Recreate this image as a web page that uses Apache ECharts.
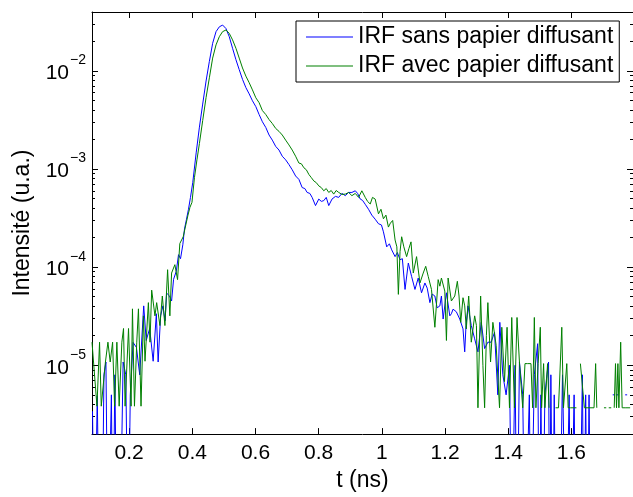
<!DOCTYPE html>
<html>
<head>
<meta charset="utf-8">
<script src="https://cdn.jsdelivr.net/npm/echarts@6/dist/echarts.min.js"></script>
<style>
  html, body { margin: 0; padding: 0; background: #fff; }
  #chart { width: 633px; height: 497px; }
</style>
</head>
<body>
<div id="chart"></div>
<script>
// t (ns), intensité (u.a.) ; 1e-7 = pas de coups (sous l'axe), null = trou
var sansPapier = [
  [0.0841, 3.4e-6], [0.0904, 1e-7], [0.0992, 4.9e-6], [0.1061, 1e-7], [0.1140, 1e-7],
  [0.1203, 8.0e-6], [0.1266, 1.08e-5], [0.1329, 1e-7], [0.1439, 5.0e-6], [0.1486, 1e-7],
  [0.1549, 8.0e-6], [0.1612, 1e-7], [0.1707, 1e-7], [0.1810, 1.08e-5], [0.1895, 8.0e-6],
  [0.1968, 1e-7], [0.2037, 5.0e-6], [0.2125, 1.71e-5], [0.2232, 1.52e-5], [0.2336, 8.0e-6],
  [0.2462, 4.03e-5], [0.2541, 1.79e-5], [0.2651, 2.37e-5], [0.2761, 1.10e-5], [0.2862, 3.35e-5],
  [0.2919, 1.08e-5], [0.2997, 3.19e-5], [0.3070, 4.03e-5], [0.3139, 2.84e-5], [0.3186, 5.44e-5],
  [0.3281, 5.08e-5], [0.3344, 4.52e-5], [0.3407, 7.52e-5], [0.3492, 9.06e-5], [0.3564, 1.34e-4],
  [0.3627, 1.22e-4], [0.3700, 1.69e-4], [0.3753, 2.45e-4], [0.3816, 3.08e-4], [0.3879, 3.89e-4],
  [0.3942, 5.14e-4], [0.4014, 7.26e-4], [0.4122, 1.46e-3], [0.4225, 2.67e-3], [0.4329, 4.59e-3],
  [0.4436, 7.88e-3], [0.4540, 1.25e-2], [0.4644, 1.91e-2], [0.4751, 2.51e-2], [0.4855, 2.81e-2],
  [0.4959, 2.93e-2], [0.5066, 2.70e-2], [0.5170, 2.23e-2], [0.5274, 1.70e-2], [0.5381, 1.30e-2],
  [0.5485, 1.03e-2], [0.5589, 8.20e-3], [0.5696, 6.75e-3], [0.5800, 5.83e-3], [0.5904, 4.96e-3],
  [0.6011, 4.32e-3], [0.6115, 3.59e-3], [0.6219, 3.03e-3], [0.6326, 2.65e-3], [0.6430, 2.22e-3],
  [0.6533, 1.97e-3], [0.6640, 1.70e-3], [0.6744, 1.56e-3], [0.6848, 1.35e-3], [0.6955, 1.24e-3],
  [0.7059, 1.11e-3], [0.7163, 9.82e-4], [0.7270, 8.49e-4], [0.7374, 7.84e-4], [0.7478, 6.47e-4],
  [0.7563, 6.32e-4], [0.7635, 5.77e-4], [0.7720, 5.64e-4], [0.7793, 5.14e-4], [0.7900, 4.24e-4],
  [0.8004, 4.94e-4], [0.8083, 4.68e-4], [0.8161, 4.76e-4], [0.8240, 5.14e-4], [0.8319, 4.24e-4],
  [0.8423, 4.94e-4], [0.8530, 5.26e-4], [0.8634, 5.14e-4], [0.8737, 5.64e-4], [0.8844, 5.35e-4],
  [0.8948, 5.77e-4], [0.9052, 5.77e-4], [0.9159, 6.00e-4], [0.9232, 5.64e-4], [0.9317, 4.94e-4],
  [0.9389, 4.79e-4], [0.9474, 4.37e-4], [0.9578, 3.89e-4], [0.9682, 3.39e-4], [0.9789, 3.08e-4],
  [0.9893, 2.77e-4], [0.9987, 2.69e-4], [1.0050, 2.29e-4], [1.0154, 1.61e-4], [1.0239, 1.73e-4],
  [1.0312, 1.50e-4], [1.0419, 1.28e-4], [1.0491, 1.41e-4], [1.0576, 1.19e-4], [1.0649, 1.22e-4],
  [1.0734, 5.93e-5], [1.0838, 1.10e-4], [1.0941, 8.06e-5], [1.1048, 5.93e-5], [1.1152, 7.75e-5],
  [1.1256, 5.48e-5], [1.1363, 6.90e-5], [1.1436, 6.11e-5], [1.1521, 4.35e-5], [1.1593, 5.32e-5],
  [1.1678, 5.08e-5], [1.1751, 3.85e-5], [1.1836, 4.03e-5], [1.1886, 5.08e-5], [1.1940, 2.96e-5],
  [1.1993, 2.98e-5], [1.2044, 5.48e-5], [1.2097, 5.44e-5], [1.2151, 3.19e-5], [1.2201, 3.35e-5],
  [1.2254, 3.73e-5], [1.2358, 3.51e-5], [1.2465, 2.96e-5], [1.2569, 2.35e-5], [1.2623, 1.37e-5],
  [1.2664, 2.54e-5], [1.2727, 4.03e-5], [1.2831, 2.54e-5], [1.2938, 1.86e-5], [1.3042, 1.37e-5],
  [1.3146, 2.74e-5], [1.3253, 1.48e-5], [1.3356, 1.72e-5], [1.3460, 1.72e-5], [1.3567, 2.17e-5],
  [1.3671, 5.0e-6], [1.3734, 2.74e-5], [1.3829, 8.0e-6], [1.3933, 5.0e-6], [1.4040, 1.0e-5],
  [1.4112, 1e-7], [1.4216, 1.0e-5], [1.4279, 1e-7], [1.4355, 1.08e-5], [1.4459, 5.0e-6],
  [1.4531, 1e-7], [1.4669, 5.0e-6], [1.4720, 1e-7], [1.4827, 8.0e-6], [1.4931, 1.66e-5],
  [1.4984, 1e-7], [1.5035, 5.0e-6], [1.5088, 1e-7], [1.5161, 5.0e-6], [1.5224, 8.0e-6],
  [1.5277, 1.08e-5], [1.5315, 1e-7], [1.5350, 8.0e-6], [1.5403, 1e-7], [1.5457, 5.0e-6],
  [1.5513, 1e-7], [1.5623, 1e-7], [1.5718, 8.0e-6], [1.5771, 8.0e-6], [1.5828, 1e-7],
  [1.5929, 5.0e-6], [1.5986, 1e-7], [1.6086, 5.0e-6], [1.6143, 1e-7], [1.6253, 1e-7],
  [1.6348, 8.0e-6], [1.6395, 1e-7], [1.6452, 5.0e-6], [1.6505, 1e-7], [1.6559, 5.0e-6],
  [1.6615, 1e-7], [1.6820, 1e-7], [1.7135, 1e-7], [1.7200, null],
  [1.7308, 5.0e-6], [1.7371, 5.0e-6], [1.7395, null], [1.7418, 5.0e-6], [1.7481, 5.0e-6],
  [1.7600, null], [1.7702, 5.0e-6], [1.7765, 5.0e-6]
];

var avecPapier = [
  [0.0825, 1.72e-5], [0.0878, 1.72e-5], [0.0982, 3.83e-6], [0.1036, 3.83e-6], [0.1064, 1.72e-5],
  [0.1118, 3.83e-6], [0.1171, 3.83e-6], [0.1250, 1.08e-5], [0.1329, 1.72e-5], [0.1401, 1.08e-5],
  [0.1477, 1.72e-5], [0.1540, 3.83e-6], [0.1612, 1.72e-5], [0.1685, 3.83e-6], [0.1770, 1.72e-5],
  [0.1823, 2.37e-5], [0.1873, 3.83e-6], [0.1981, 2.37e-5], [0.2062, 3.83e-6], [0.2106, 3.76e-5],
  [0.2169, 3.83e-6], [0.2242, 1.72e-5], [0.2295, 3.76e-5], [0.2377, 3.83e-6], [0.2453, 3.19e-5],
  [0.2503, 1.10e-5], [0.2610, 4.35e-5], [0.2661, 1.72e-5], [0.2714, 5.83e-5], [0.2818, 3.19e-5],
  [0.2872, 4.35e-5], [0.2975, 2.54e-5], [0.3051, 5.08e-5], [0.3133, 2.54e-5], [0.3218, 9.42e-5],
  [0.3290, 3.19e-5], [0.3344, 8.71e-5], [0.3448, 1.06e-4], [0.3533, 7.46e-5], [0.3605, 1.74e-4],
  [0.3712, 2.04e-4], [0.3794, 2.69e-4], [0.3863, 3.39e-4], [0.3926, 4.07e-4], [0.3989, 4.57e-4],
  [0.4068, 8.17e-4], [0.4147, 1.24e-3], [0.4225, 1.82e-3], [0.4329, 3.12e-3], [0.4436, 5.35e-3],
  [0.4540, 8.50e-3], [0.4644, 1.35e-2], [0.4751, 1.84e-2], [0.4855, 2.23e-2], [0.4959, 2.51e-2],
  [0.5066, 2.61e-2], [0.5170, 2.41e-2], [0.5274, 2.07e-2], [0.5381, 1.70e-2], [0.5485, 1.35e-2],
  [0.5589, 1.07e-2], [0.5696, 8.84e-3], [0.5800, 7.58e-3], [0.5904, 6.40e-3], [0.6011, 5.32e-3],
  [0.6115, 4.74e-3], [0.6219, 3.94e-3], [0.6326, 3.59e-3], [0.6430, 3.19e-3], [0.6533, 2.91e-3],
  [0.6640, 2.59e-3], [0.6744, 2.42e-3], [0.6848, 2.22e-3], [0.6955, 1.97e-3], [0.7059, 1.76e-3],
  [0.7163, 1.56e-3], [0.7270, 1.35e-3], [0.7374, 1.15e-3], [0.7453, 1.13e-3], [0.7532, 1.03e-3],
  [0.7610, 9.82e-4], [0.7689, 8.81e-4], [0.7768, 8.17e-4], [0.7846, 7.56e-4], [0.7925, 7.26e-4],
  [0.8004, 6.73e-4], [0.8083, 6.47e-4], [0.8161, 6.00e-4], [0.8240, 6.32e-4], [0.8319, 5.77e-4],
  [0.8397, 6.04e-4], [0.8476, 5.55e-4], [0.8555, 6.04e-4], [0.8634, 5.77e-4], [0.8737, 5.51e-4],
  [0.8844, 5.55e-4], [0.8948, 5.77e-4], [0.9052, 5.35e-4], [0.9159, 5.64e-4], [0.9263, 5.14e-4],
  [0.9367, 6.00e-4], [0.9474, 5.14e-4], [0.9547, 4.68e-4], [0.9632, 4.40e-4], [0.9704, 5.14e-4],
  [0.9789, 4.94e-4], [0.9893, 3.49e-4], [0.9972, 3.89e-4], [1.0050, 3.11e-4], [1.0129, 3.39e-4],
  [1.0208, 2.56e-4], [1.0271, 2.81e-4], [1.0343, 2.99e-4], [1.0419, 1.89e-4], [1.0475, 1.61e-4],
  [1.0523, 5.28e-5], [1.0576, 1.44e-4], [1.0627, 2.04e-4], [1.0696, 1.61e-4], [1.0784, 1.28e-4],
  [1.0854, 1.54e-4], [1.0923, 1.81e-4], [1.0995, 8.71e-5], [1.1099, 1.28e-4], [1.1206, 6.90e-5],
  [1.1310, 8.71e-5], [1.1389, 1.02e-4], [1.1467, 8.06e-5], [1.1571, 5.93e-5], [1.1678, 2.44e-5],
  [1.1782, 7.46e-5], [1.1836, 6.40e-5], [1.1886, 7.75e-5], [1.1940, 7.75e-5], [1.1993, 5.70e-5],
  [1.2044, 1.79e-5], [1.2097, 7.75e-5], [1.2201, 4.52e-5], [1.2308, 5.08e-5], [1.2390, 7.18e-5],
  [1.2443, 5.08e-5], [1.2497, 2.74e-5], [1.2569, 4.88e-5], [1.2623, 4.03e-5], [1.2673, 2.35e-5],
  [1.2749, 5.08e-5], [1.2831, 1.72e-5], [1.2938, 3.19e-5], [1.2994, 2.54e-5], [1.3042, 3.69e-6],
  [1.3127, 5.08e-5], [1.3199, 1.0e-5], [1.3253, 3.69e-6], [1.3309, 2.01e-5], [1.3356, 4.35e-5],
  [1.3441, 1.08e-5], [1.3514, 2.74e-5], [1.3618, 1.60e-5], [1.3725, 3.69e-6], [1.3797, 2.44e-5],
  [1.3882, 6.82e-6], [1.3964, 2.44e-5], [1.4040, 3.69e-6], [1.4112, 3.07e-5], [1.4197, 3.69e-6],
  [1.4279, 3.07e-5], [1.4355, 1.08e-5], [1.4459, 3.69e-6], [1.4531, 1.04e-5], [1.4616, 1.04e-5],
  [1.4720, 1.04e-5], [1.4773, 3.69e-6], [1.4827, 3.07e-5], [1.4877, 3.69e-6], [1.4947, 1.04e-5],
  [1.5016, 2.44e-5], [1.5057, 3.69e-6], [1.5120, 1.04e-5], [1.5161, 3.69e-6], [1.5246, 1.04e-5],
  [1.5293, 3.69e-6], [1.5400, null], [1.5498, 3.69e-6], [1.5592, 3.69e-6], [1.5696, 2.44e-5],
  [1.5749, 3.69e-6], [1.5854, 1.04e-5], [1.5897, 3.69e-6], [1.5970, 3.69e-6], [1.6159, 3.69e-6],
  [1.6220, null], [1.6285, 1.04e-5], [1.6348, 1.04e-5], [1.6411, 3.69e-6], [1.6716, 3.69e-6],
  [1.6767, 1.04e-5], [1.6804, 3.69e-6], [1.6900, null], [1.7031, 3.69e-6], [1.7103, 3.69e-6],
  [1.7140, null], [1.7182, 3.69e-6], [1.7261, 3.69e-6], [1.7300, null], [1.7355, 3.69e-6],
  [1.7396, 1.04e-5], [1.7428, 3.69e-6], [1.7472, 1.04e-5], [1.7503, 3.69e-6], [1.7560, 1.72e-5],
  [1.7607, 3.69e-6], [1.7702, 3.69e-6], [1.7859, 3.69e-6]
];

var xTicks = [0.2, 0.4, 0.6, 0.8, 1, 1.2, 1.4, 1.6];
var yMajor = [1e-5, 1e-4, 1e-3, 1e-2];
var yMinor = [];
[1e-6, 1e-5, 1e-4, 1e-3, 1e-2].forEach(function (d) {
  for (var k = 2; k <= 9; k++) yMinor.push(k * d);
});

var FONT = 'Liberation Sans';
var xMin = 0.0825, xMax = 1.795;
var yMin = 1.99e-6, yMax = 0.0398;

var chart = echarts.init(document.getElementById('chart'));

function yAxisDef(pos, ticks, len, withLabel) {
  return {
    type: 'log',
    position: pos,
    min: yMin,
    max: yMax,
    axisLine: { show: withLabel, lineStyle: { color: '#000', width: 1 } },
    axisTick: { show: true, inside: true, length: len, customValues: ticks,
      lineStyle: { color: '#000', width: 1 } },
    splitLine: { show: false },
    minorTick: { show: false },
    axisLabel: withLabel ? {
      customValues: yMajor,
      margin: 6,
      formatter: function (v) {
        var e = Math.round(Math.log10(v));
        return '{b|10}{s|\u2212' + (-e) + '}';
      },
      rich: {
        b: { fontSize: 21, fontFamily: FONT, color: '#000', padding: [5, 0, 0, 0] },
        s: { fontSize: 14, fontFamily: FONT, color: '#000', padding: [0, 0, 21, 1] }
      }
    } : { show: false },
    name: withLabel ? 'Intensité (u.a.)' : '',
    nameLocation: 'middle',
    nameGap: 58,
    nameTextStyle: { fontSize: 23, fontFamily: FONT, color: '#000' }
  };
}

chart.setOption({
  animation: false,
  backgroundColor: '#fff',
  grid: { left: 92, top: 12, right: -3, bottom: 57, containLabel: false },
  legend: {
    left: 296,
    top: 21,
    orient: 'vertical',
    padding: [2, 6, 2, 10],
    itemGap: 1,
    icon: 'rect',
    itemWidth: 47,
    itemHeight: 1,
    borderColor: '#000',
    borderWidth: 1,
    borderRadius: 0,
    backgroundColor: '#fff',
    textStyle: { fontSize: 23, fontFamily: FONT, color: '#000', lineHeight: 28 },
    data: ['IRF sans papier diffusant', 'IRF avec papier diffusant']
  },
  xAxis: [{
    type: 'value',
    position: 'bottom',
    min: xMin,
    max: xMax,
    axisLine: { lineStyle: { color: '#000', width: 1 } },
    axisTick: { inside: true, length: 6, customValues: xTicks, lineStyle: { color: '#000' } },
    axisLabel: { customValues: xTicks, margin: 9, fontSize: 21, fontFamily: FONT, color: '#000',
      formatter: function (v) { return String(v); } },
    splitLine: { show: false },
    name: 't (ns)',
    nameLocation: 'middle',
    nameGap: 33,
    nameTextStyle: { fontSize: 23, fontFamily: FONT, color: '#000' }
  }, {
    type: 'value',
    position: 'top',
    min: xMin,
    max: xMax,
    axisLine: { lineStyle: { color: '#000', width: 1 } },
    axisTick: { inside: true, length: 6, customValues: xTicks, lineStyle: { color: '#000' } },
    axisLabel: { show: false },
    splitLine: { show: false }
  }],
  yAxis: [
    yAxisDef('left', yMajor, 6, true),
    yAxisDef('left', yMinor, 3, false),
    yAxisDef('right', yMajor, 6, false),
    yAxisDef('right', yMinor, 3, false)
  ],
  series: [{
    name: 'IRF sans papier diffusant',
    type: 'line',
    xAxisIndex: 0,
    yAxisIndex: 0,
    data: sansPapier,
    symbol: 'none',
    connectNulls: false,
    clip: true,
    lineStyle: { color: '#0000ff', width: 1 },
    itemStyle: { color: '#0000ff' }
  }, {
    name: 'IRF avec papier diffusant',
    type: 'line',
    xAxisIndex: 0,
    yAxisIndex: 0,
    data: avecPapier,
    symbol: 'none',
    connectNulls: false,
    clip: true,
    lineStyle: { color: '#008000', width: 1 },
    itemStyle: { color: '#008000' }
  }]
});
</script>
</body>
</html>
